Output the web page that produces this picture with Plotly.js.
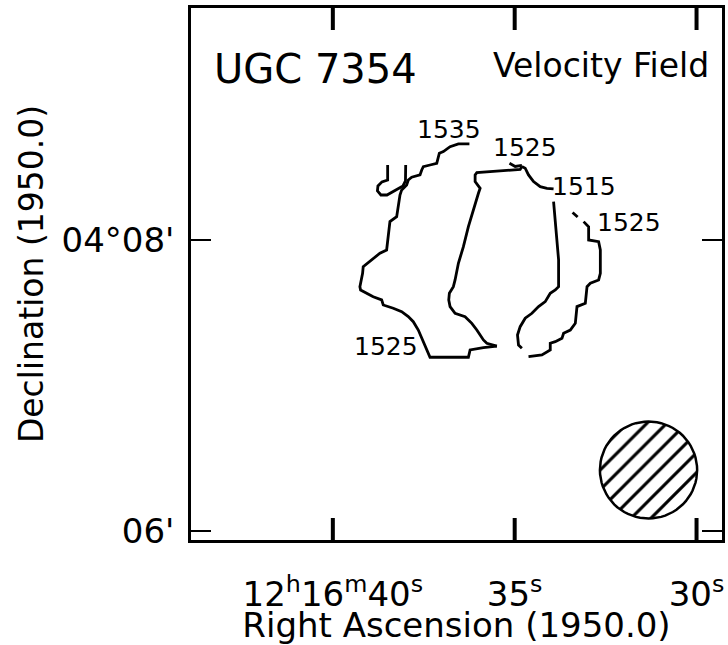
<!DOCTYPE html>
<html>
<head>
<meta charset="utf-8">
<script src="https://cdn.plot.ly/plotly-3.0.1.min.js"></script>
<style>html,body{margin:0;padding:0;background:#fff;}</style>
</head>
<body>
<div id="chart" style="width:728px;height:645px;"></div>
<script>
// Axis ticks: RA seconds after 12h16m, Dec arcmin after +04°
const raTickVals = [40, 35, 30];
const raTickText = ["12<sup>h</sup>16<sup>m</sup>40<sup>s</sup>", "35<sup>s</sup>", "30<sup>s</sup>"];
const decTickVals = [6, 8];
const decTickText = ["06'\u2009", "04°08'\u2009"];

// Contours (RA s, Dec arcmin)
const c1535RA  = [36.245,36.548,36.777,36.961,37.072,37.099,37.143,37.328,37.512,37.556,37.603,37.832,37.926,37.970,38.107,38.154,38.174,38.201,38.245,38.430,38.449,38.477,38.521,38.705,38.890,39.072,39.165,39.182,39.209,39.256,39.237,39.072,38.890,38.658,38.614,38.339,38.107,37.926,37.788,37.650,37.529,37.438,37.328,36.273,36.226,35.860,35.490];
const c1535Dec = [8.660,8.660,8.641,8.607,8.596,8.562,8.527,8.515,8.504,8.481,8.447,8.431,8.412,8.378,8.344,8.309,8.275,8.218,8.160,8.126,8.091,8.034,7.931,7.909,7.874,7.840,7.816,7.771,7.725,7.679,7.656,7.634,7.610,7.588,7.553,7.531,7.507,7.473,7.438,7.381,7.313,7.256,7.194,7.194,7.244,7.260,7.271];

const hookRA  = [38.493,38.493,38.650,38.760,38.774,38.678,38.512,38.375,38.209,38.072,38.003,37.997];
const hookDec = [8.515,8.412,8.399,8.371,8.337,8.309,8.309,8.330,8.351,8.371,8.406,8.515];

const c1525mRA  = [34.802,34.849,36.041,36.088,36.088,35.950,35.997,36.135,36.273,36.410,36.548,36.639,36.686,36.796,36.813,36.777,36.639,36.364,36.179,36.041,35.950,35.860,35.766,35.490];
const c1525mDec = [8.504,8.485,8.463,8.447,8.401,8.355,8.321,8.206,8.091,7.954,7.840,7.725,7.679,7.634,7.588,7.542,7.496,7.473,7.427,7.381,7.347,7.313,7.290,7.271];

const c1515aRA  = [34.802,34.711,34.620,34.482,34.298,34.113,33.931];
const c1515aDec = [8.504,8.493,8.447,8.401,8.366,8.355,8.351];

const arcRA  = [35.143,34.986,34.802];
const arcDec = [8.527,8.505,8.512];

const c1515bRA  = [33.931,33.884,33.838,33.793,33.793,33.884,34.022,34.160,34.344,34.526,34.711,34.849,34.923,34.895,34.802];
const c1515bDec = [8.263,8.137,8.023,7.863,7.679,7.656,7.634,7.576,7.542,7.496,7.462,7.404,7.347,7.278,7.256];

const dashRA  = [33.408,33.270];
const dashDec = [8.189,8.158];

const c1525rRA  = [33.105,32.967,32.967,32.692,32.645,32.645,32.692,32.920,33.011,33.058,33.287,33.333,33.471,33.656,33.700,33.884,34.022,34.022,34.251,34.620];
const c1525rDec = [8.126,8.091,8.000,7.988,7.931,7.771,7.725,7.702,7.679,7.565,7.542,7.427,7.381,7.359,7.324,7.301,7.290,7.244,7.210,7.198];

// Contour labels
const labelText = ["1535", "1525", "1515", "1525", "1525"];
const labelRA   = [36.80, 34.71, 33.09, 31.85, 38.54];
const labelDec  = [8.756, 8.632, 8.364, 8.117, 7.265];

// Beam (center RA s, Dec arcmin, radius arcsec)
const beamRA = 31.32, beamDec = 6.419, beamRadiusArcsec = 20;

const FONT = "DejaVu Sans, Verdana, sans-serif";
const lineStyle = {color: "black", width: 2.8};
const X_RANGE = [43.90, 29.30];
const Y_RANGE = [5.938, 9.594];

function contour(x, y) {
  return {type: "scatter", mode: "lines", x: x, y: y, line: lineStyle, hoverinfo: "skip", showlegend: false};
}

const bx = [], by = [];
const cosDec = Math.cos((4 + beamDec / 60) * Math.PI / 180);
for (let i = 0; i <= 72; i++) {
  const t = i / 72 * 2 * Math.PI;
  bx.push(beamRA + beamRadiusArcsec * Math.cos(t) / (15 * cosDec));
  by.push(beamDec + beamRadiusArcsec * Math.sin(t) / 60);
}

const traces = [
  contour(c1535RA, c1535Dec),
  contour(hookRA, hookDec),
  contour(c1525mRA, c1525mDec),
  contour(c1515aRA, c1515aDec),
  contour(arcRA, arcDec),
  contour(c1515bRA, c1515bDec),
  contour(dashRA, dashDec),
  contour(c1525rRA, c1525rDec),
  {type: "scatter", mode: "lines", x: bx, y: by, fill: "toself", fillcolor: "white",
   fillpattern: {shape: "/", size: 14, solidity: 0.22, fgcolor: "black", bgcolor: "white"},
   line: {color: "black", width: 2.5}, hoverinfo: "skip", showlegend: false}
];

// inward x-axis tick marks on bottom and top frame, at the RA tick values
const plotH = 645 - 8 - 105;
const tickLenData = 22 / plotH * (Y_RANGE[1] - Y_RANGE[0]);
raTickVals.forEach(v => {
  traces.push({type: "scatter", mode: "lines", x: [v, v], y: [Y_RANGE[0], Y_RANGE[0] + tickLenData],
    line: {color: "#000000", width: 4}, hoverinfo: "skip", showlegend: false});
  traces.push({type: "scatter", mode: "lines", x: [v, v], y: [Y_RANGE[1] - tickLenData, Y_RANGE[1]],
    line: {color: "#000000", width: 4}, hoverinfo: "skip", showlegend: false});
});

const annotations = labelText.map((t, i) => ({
  x: labelRA[i], y: labelDec[i], xref: "x", yref: "y", text: t, showarrow: false,
  font: {family: FONT, size: 25, color: "black"}
}));
annotations.push({x: 43.33, y: 9.172, xref: "x", yref: "y", xanchor: "left", text: "UGC 7354",
  showarrow: false, font: {family: FONT, size: 40, color: "black"}});
annotations.push({x: 29.59, y: 9.20, xref: "x", yref: "y", xanchor: "right", text: "Velocity Field",
  showarrow: false, font: {family: FONT, size: 33, color: "black"}});

const lineCommon = {
  showline: true, linewidth: 3, linecolor: "black",
  showgrid: false, zeroline: false, fixedrange: true,
  tickfont: {family: FONT, size: 34, color: "black"}
};

const layout = {
  width: 728, height: 645,
  margin: {l: 191, r: 6, t: 8, b: 105},
  paper_bgcolor: "white", plot_bgcolor: "white",
  showlegend: false,
  xaxis: Object.assign({}, lineCommon, {
    mirror: true,
    range: X_RANGE, tickmode: "array", tickvals: raTickVals, ticktext: raTickText,
    ticks: "outside", ticklen: 22, tickwidth: 1, tickcolor: "rgba(0,0,0,0)",
    title: {text: "Right Ascension (1950.0)", font: {family: FONT, size: 34, color: "black"}, standoff: 6}
  }),
  yaxis: Object.assign({}, lineCommon, {
    mirror: "allticks", ticks: "inside", ticklen: 20, tickwidth: 2.5, tickcolor: "black",
    range: Y_RANGE, tickmode: "array", tickvals: decTickVals, ticktext: decTickText,
    title: {text: "Declination (1950.0)", font: {family: FONT, size: 33, color: "black"}, standoff: 8}
  }),
  annotations: annotations
};

Plotly.newPlot("chart", traces, layout, {displayModeBar: false, staticPlot: true});
</script>
</body>
</html>
